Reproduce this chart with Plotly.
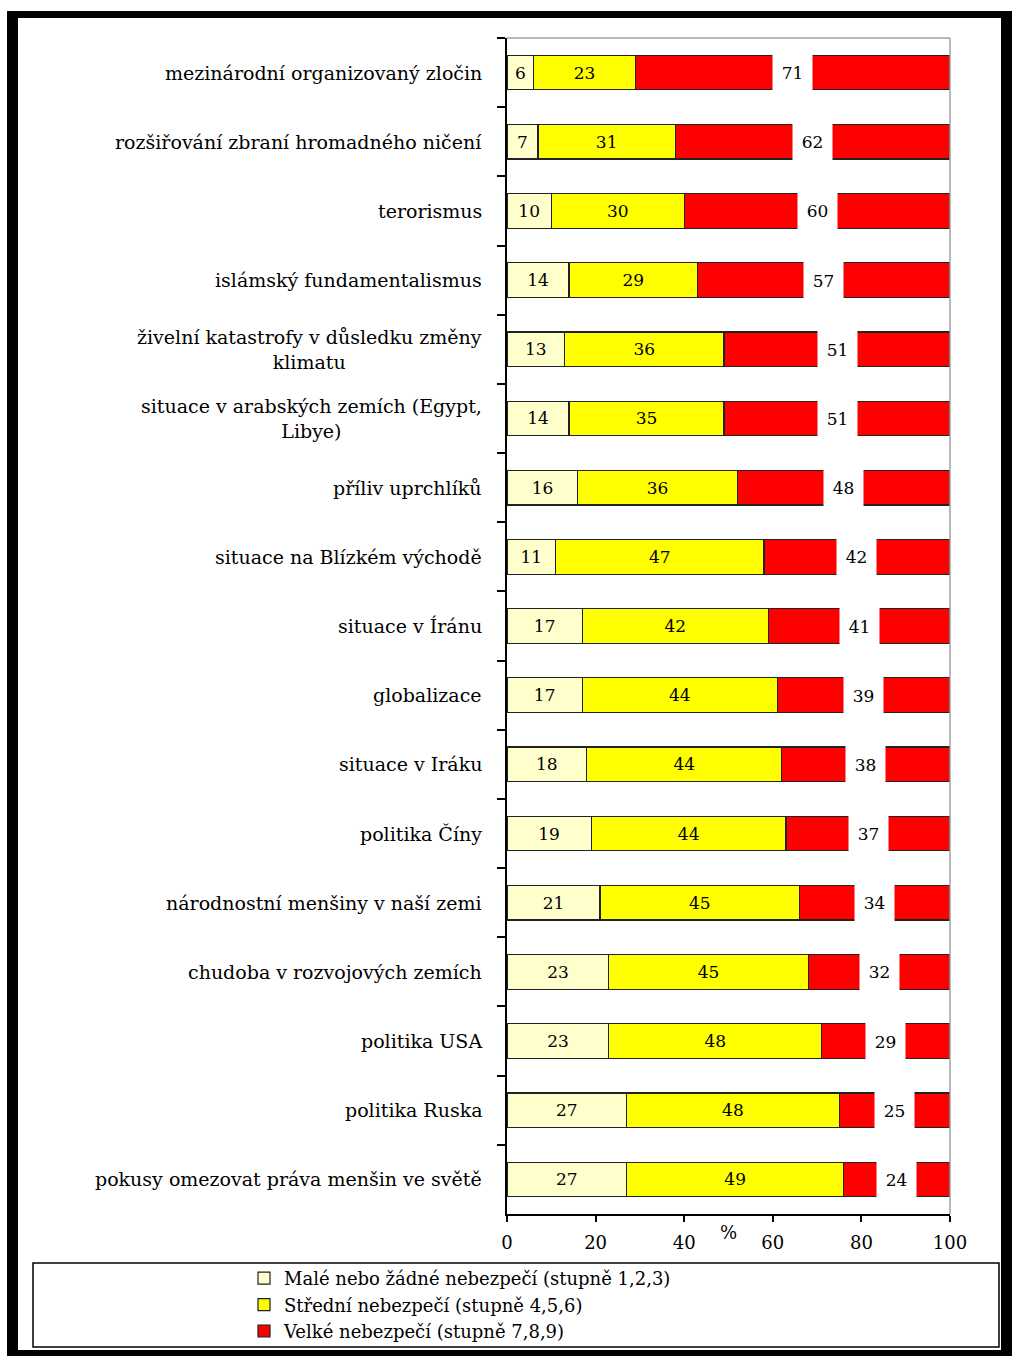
import plotly.graph_objects as go

categories = [
    "mezinárodní organizovaný zločin",
    "rozšiřování zbraní hromadného ničení",
    "terorismus",
    "islámský fundamentalismus",
    "živelní katastrofy v důsledku změny<br>klimatu",
    "situace v arabských zemích (Egypt,<br>Libye)",
    "příliv uprchlíků",
    "situace na Blízkém východě",
    "situace v Íránu",
    "globalizace",
    "situace v Iráku",
    "politika Číny",
    "národnostní menšiny v naší zemi",
    "chudoba v rozvojových zemích",
    "politika USA",
    "politika Ruska",
    "pokusy omezovat práva menšin ve světě",
]
male = [6, 7, 10, 14, 13, 14, 16, 11, 17, 17, 18, 19, 21, 23, 23, 27, 27]
stredni = [23, 31, 30, 29, 36, 35, 36, 47, 42, 44, 44, 44, 45, 45, 48, 48, 49]
velke = [71, 62, 60, 57, 51, 51, 48, 42, 41, 39, 38, 37, 34, 32, 29, 25, 24]
series_names = [
    "Malé nebo žádné nebezpečí (stupně 1,2,3)",
    "Střední nebezpečí (stupně 4,5,6)",
    "Velké nebezpečí (stupně 7,8,9)",
]
x_ticks = [0, 20, 40, 60, 80, 100]

W, H = 1012, 1356
L, R, T, B = 507, 950, 38, 1214
FONT = "DejaVu Serif"


def px(x):
    return (x - L) / (R - L)


def py(y):
    return (B - y) / (B - T)


fig = go.Figure()
fig.add_trace(go.Bar(
    y=categories, x=male, name=series_names[0], orientation="h",
    marker=dict(color="#FFFFCC", line=dict(color="#222222", width=1.2)),
    text=[str(v) for v in male], textposition="inside", insidetextanchor="middle",
    textangle=0, textfont=dict(family=FONT, size=17, color="black"),
    legendgroup="a",
))
fig.add_trace(go.Bar(
    y=categories, x=stredni, name=series_names[1], orientation="h",
    marker=dict(color="#FFFF00", line=dict(color="#222222", width=1.2)),
    text=[str(v) for v in stredni], textposition="inside", insidetextanchor="middle",
    textangle=0, textfont=dict(family=FONT, size=17, color="black"),
    legendgroup="b",
))
fig.add_trace(go.Bar(
    y=categories, x=velke, name=series_names[2], orientation="h",
    marker=dict(color="#FF0000", line=dict(color="#222222", width=1.2)),
    legendgroup="c",
))

annotations = []
for c, m, s, v in zip(categories, male, stredni, velke):
    annotations.append(dict(
        x=m + s + v / 2, y=c, xref="x", yref="y", text=str(v), showarrow=False,
        bgcolor="white", width=37, height=37,
        font=dict(family=FONT, size=17, color="black"),
    ))
    annotations.append(dict(
        x=px(484), y=c, xref="paper", yref="y", text=c, showarrow=False,
        xanchor="right", align="center",
        font=dict(family=FONT, size=19, color="black"),
    ))
annotations.append(dict(
    x=50, y=py(1245), xref="x", yref="paper", text="%", showarrow=False,
    font=dict(family=FONT, size=18, color="black"),
))

shapes = [
    # plot area top/right gray border
    dict(type="line", xref="paper", yref="paper", x0=0, x1=1, y0=1, y1=1,
         line=dict(color="#A0A0A0", width=1.5)),
    dict(type="line", xref="paper", yref="paper", x0=1, x1=1, y0=0, y1=1,
         line=dict(color="#A0A0A0", width=1.5)),
    # legend box
    dict(type="rect", xref="paper", yref="paper", x0=px(33), x1=px(999),
         y0=py(1347), y1=py(1263), line=dict(color="black", width=1.5)),
]
# outer black frame
for x0, x1, y0, y1 in [(7, 18, 11, 1356), (7, 1012, 11, 18), (1001, 1012, 11, 1356), (7, 1012, 1350, 1356)]:
    shapes.append(dict(type="rect", xref="paper", yref="paper",
                       x0=px(x0), x1=px(x1), y0=py(y1), y1=py(y0),
                       fillcolor="black", line=dict(width=0), layer="above"))

fig.update_layout(
    width=W, height=H,
    margin=dict(l=L, r=W - R, t=T, b=H - B, pad=0, autoexpand=False),
    paper_bgcolor="white", plot_bgcolor="white",
    barmode="stack", bargap=0.5,
    font=dict(family=FONT, size=17, color="black"),
    showlegend=True,
    legend=dict(x=px(244), y=py(1260), xanchor="left", yanchor="top",
                traceorder="normal", tracegroupgap=3,
                font=dict(family=FONT, size=18, color="black"),
                bgcolor="rgba(0,0,0,0)", borderwidth=0),
    annotations=annotations,
    shapes=shapes,
    uniformtext=dict(mode=False),
)
fig.update_xaxes(range=[0, 100], tickvals=x_ticks, showgrid=False, zeroline=False,
                 showline=True, linecolor="black", linewidth=1.5, automargin=False,
                 ticks="outside", ticklen=6, tickcolor="black", tickwidth=1.5,
                 ticklabelstandoff=6,
                 tickfont=dict(family=FONT, size=18, color="black"))
fig.update_yaxes(autorange="reversed", showgrid=False, zeroline=False,
                 showline=True, linecolor="black", linewidth=1.5, automargin=False,
                 ticks="outside", ticklen=8, tickcolor="black", tickwidth=1.5,
                 tickson="boundaries", showticklabels=False)

fig.write_html(
    "out.html",
    config={"displayModeBar": False},
    post_script="document.body.style.margin='0';document.body.style.overflow='hidden';",
)
